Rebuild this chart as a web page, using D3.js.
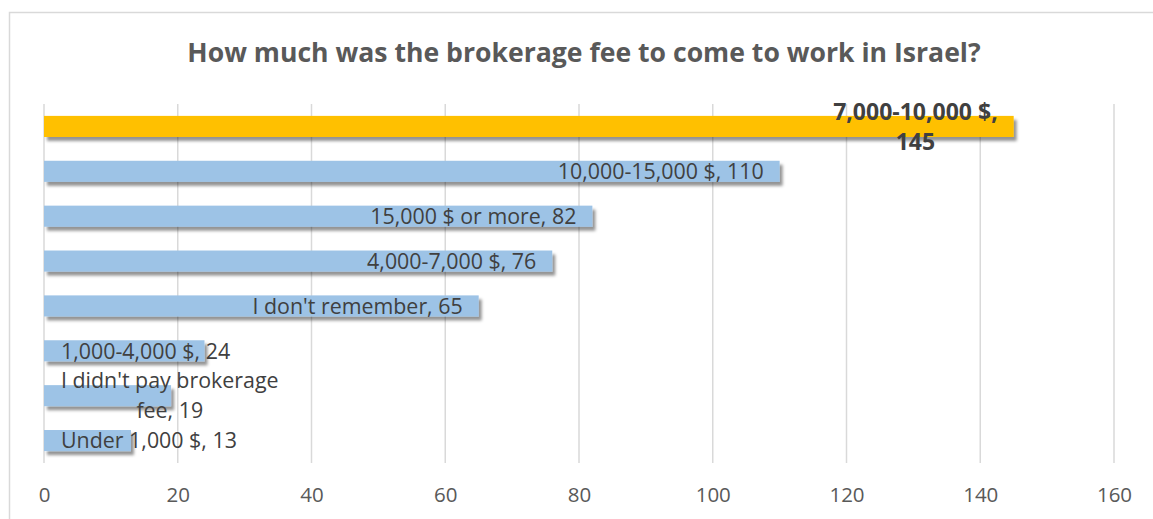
<!DOCTYPE html>
<html>
<head>
<meta charset="utf-8">
<script src="https://cdn.jsdelivr.net/npm/d3@7"></script>
<style>
  html, body { margin: 0; padding: 0; background: #fff; }
  svg { display: block; font-family: "Open Sans", sans-serif; }
</style>
</head>
<body>
<div id="chart"></div>
<script>
// data (top to bottom as in the chart)
var categories = ["7,000-10,000 $", "10,000-15,000 $", "15,000 $ or more", "4,000-7,000 $",
                  "I don't remember", "1,000-4,000 $", "I didn't pay brokerage fee", "Under 1,000 $"];
var values = [145, 110, 82, 76, 65, 24, 19, 13];
var highlight = [true, false, false, false, false, false, false, false];
// label lines where the label wraps
var labelLines = [["7,000-10,000 $,", "145"], null, null, null, null, null,
                  ["I didn't pay brokerage", "fee, 19"], null];
var xTicks = [0, 20, 40, 60, 80, 100, 120, 140, 160];
var title = "How much was the brokerage fee to come to work in Israel?";

var W = 1153, H = 519;
var svg = d3.select('#chart').append('svg')
  .attr('width', W)
  .attr('height', H);

var defs = svg.append('defs');
var f = defs.append('filter').attr('id', 'shadow')
  .attr('x', '-5%').attr('y', '-50%').attr('width', '115%').attr('height', '220%');
f.append('feDropShadow')
  .attr('dx', 3).attr('dy', 4)
  .attr('stdDeviation', 1.7)
  .attr('flood-color', '#000')
  .attr('flood-opacity', 0.42);

// outer border (cropped on right and bottom)
svg.append('rect')
  .attr('x', 9.5).attr('y', 12.5)
  .attr('width', 1200).attr('height', 600)
  .attr('fill', 'none')
  .attr('stroke', '#d9d9d9')
  .attr('stroke-width', 1.5);

svg.append('text')
  .attr('x', 584)
  .attr('y', 62)
  .attr('text-anchor', 'middle')
  .attr('font-weight', 'bold')
  .attr('font-size', '26.6px')
  .attr('fill', '#595959')
  .text(title);

var x = d3.scaleLinear().domain([0, 160]).range([44, 1114]);
var y = d3.scaleBand().domain(d3.range(categories.length))
  .range([104, 463])
  .paddingInner(0.53)
  .paddingOuter(0.265);

// gridlines
svg.append('g').selectAll('line')
  .data(xTicks)
  .enter()
  .append('line')
  .attr('x1', function (d) { return x(d); })
  .attr('x2', function (d) { return x(d); })
  .attr('y1', 104)
  .attr('y2', 463)
  .attr('stroke', '#d9d9d9')
  .attr('stroke-width', 1.5);

// axis labels
var xAxis = svg.append('g')
  .attr('transform', 'translate(0,463)')
  .call(d3.axisBottom(x).tickValues(xTicks).tickSize(0).tickPadding(24));
xAxis.select('.domain').remove();
xAxis.selectAll('text')
  .attr('font-size', '20.5px')
  .attr('font-family', '"Open Sans", sans-serif')
  .attr('fill', '#595959');

// bars
svg.append('g').selectAll('rect')
  .data(values)
  .enter()
  .append('rect')
  .attr('x', x(0))
  .attr('y', function (d, i) { return y(i); })
  .attr('width', function (d) { return x(d) - x(0); })
  .attr('height', y.bandwidth())
  .attr('fill', function (d, i) { return highlight[i] ? '#ffc000' : '#9dc3e6'; })
  .attr('filter', 'url(#shadow)');

// data labels
var lineH = 30;
var labels = svg.append('g');
values.forEach(function (v, i) {
  var lines = labelLines[i] || [categories[i] + ', ' + v];
  var t = labels.append('text')
    .attr('font-size', highlight[i] ? '23px' : '21.4px')
    .attr('fill', '#404040')
    .attr('font-weight', highlight[i] ? 'bold' : 'normal')
    .attr('text-anchor', 'middle');
  lines.forEach(function (s) {
    t.append('tspan').text(s);
  });
  // measure widest line
  var widths = [];
  t.selectAll('tspan').each(function () { widths.push(this.getComputedTextLength()); });
  var w = d3.max(widths);
  var right = x(v) - 16;
  var left = Math.max(right - w, 61);
  var cx = left + w / 2;
  var cy = y(i) + y.bandwidth() / 2;
  var y0 = cy - (lines.length - 1) * lineH / 2;
  t.selectAll('tspan')
    .attr('x', cx)
    .attr('y', function (d, k) { return y0 + k * lineH; })
    .attr('dy', '0.36em');
});
</script>
</body>
</html>
